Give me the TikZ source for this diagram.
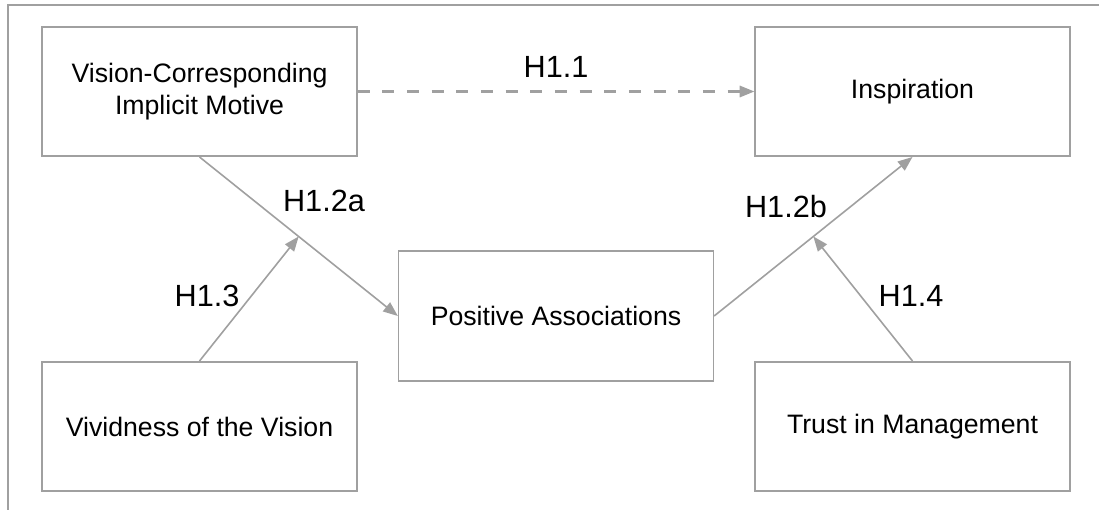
\documentclass[tikz,border=0pt]{standalone}
\usepackage{fontspec}
\setmainfont{Liberation Sans}
\usepackage{tikz}
\usetikzlibrary{arrows.meta,positioning}
\definecolor{linegray}{HTML}{A0A0A0}

\begin{document}
\begin{tikzpicture}[
    x=0.75pt, y=-0.75pt,
    >={Triangle[length=11pt,width=8.5pt]},
    block/.style={
		rectangle,
		draw=linegray,
		line width=1.2pt,
		text centered,
		align=center,
		minimum width=236pt,
		minimum height=97pt,
		font=\fontsize{20}{24}\selectfont,
		fill=white
	},
	hyp/.style={
		font=\fontsize{23}{27}\selectfont,
		inner sep=0pt
	},
	link/.style={
		draw=linegray,
		line width=1.2pt
	}
  ]
  \useasboundingbox (0,0) rectangle (1099,510);
  \draw [link] (1099,5) -- (8,5) -- (8,510);

    % the blocks
  \node [block] (motive) at (199.5,91.5) {Vision-Corresponding\\Implicit Motive};
  \node [block] (inspiration) at (912.5,91.5) {Inspiration};
  \node [block, minimum height=97.5pt] (assoc) at (556,316) {Positive Associations};
  \node [block] (vividness) at (199.5,426.5) {Vividness of the Vision};
  \node [block] (trust) at (912.5,426.5) {Trust in Management};

    % the paths
 \draw [link, ->, line width=1.6pt, dash pattern=on 9pt off 9.5pt] (motive) -- node [hyp, above=10pt] (h11) {H1.1} (inspiration);
 \draw [link, ->] (motive.south) -- coordinate [pos=0.5] (mida) (assoc.west);
 \draw [link, ->] (assoc.east) -- coordinate [pos=0.5] (midb) (inspiration.south);
 \draw [link, ->] (vividness.north) -- (mida);
 \draw [link, ->] (trust.north) -- (midb);

 \node [hyp] (h12a) at (324,201) {H1.2a};
 \node [hyp] (h12b) at (786,207) {H1.2b};
 \node [hyp] (h13) at (207,296) {H1.3};
 \node [hyp] (h14) at (911,296) {H1.4};

\end{tikzpicture}
\end{document}
